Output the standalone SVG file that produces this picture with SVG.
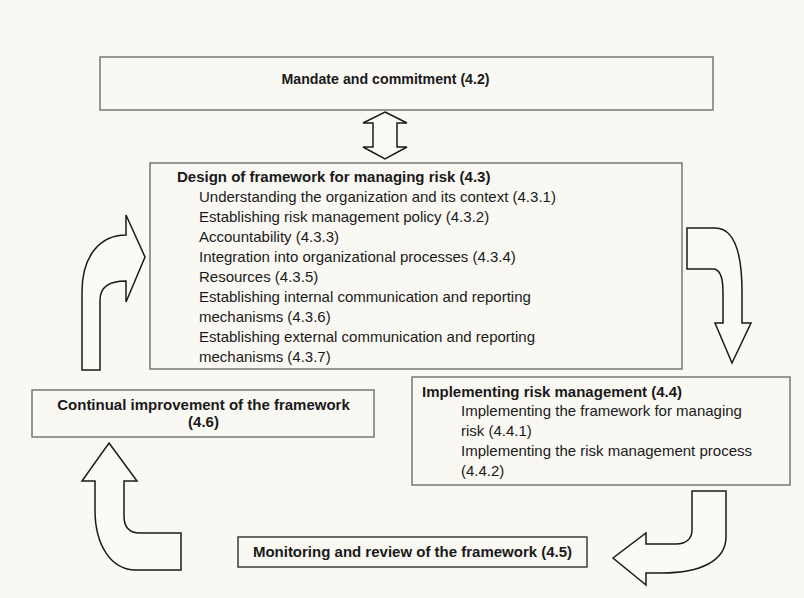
<svg xmlns="http://www.w3.org/2000/svg" width="804" height="598" viewBox="0 0 804 598">
  <style>
    .box { fill: none; stroke: #6e6e6e; stroke-width: 1.4; }
    .box-dark { fill: none; stroke: #2e2e2e; stroke-width: 1.4; }
    .t { font-family: "Liberation Sans", Arial, sans-serif; font-size: 15px; fill: #1a1a1a; }
    .b { font-weight: bold; }
    .mid { text-anchor: middle; }
    .arrow { fill: #fbfaf6; stroke: #1a1a1a; stroke-width: 1.5; stroke-linejoin: miter; }
  </style>

  <rect x="0" y="0" width="804" height="598" fill="#f9f8f3"/>

  <!-- Mandate -->
  <g id="mandate">
    <rect class="box" x="100" y="57" width="613" height="53"/>
    <text class="t b mid" x="385.5" y="83.5" style="font-size:14.2px">Mandate and commitment (4.2)</text>
  </g>

  <!-- Design of framework -->
  <g id="design">
    <rect class="box" x="150" y="163" width="532" height="206"/>
    <text class="t b" x="177" y="181.5">Design of framework for managing risk (4.3)</text>
    <text class="t" x="199" y="201.5">Understanding the organization and its context (4.3.1)</text>
    <text class="t" x="199" y="221.5">Establishing risk management policy (4.3.2)</text>
    <text class="t" x="199" y="241.5">Accountability (4.3.3)</text>
    <text class="t" x="199" y="261.5">Integration into organizational processes (4.3.4)</text>
    <text class="t" x="199" y="281.5">Resources (4.3.5)</text>
    <text class="t" x="199" y="301.5">Establishing internal communication and reporting</text>
    <text class="t" x="199" y="321.5">mechanisms (4.3.6)</text>
    <text class="t" x="199" y="341.5">Establishing external communication and reporting</text>
    <text class="t" x="199" y="361.5">mechanisms (4.3.7)</text>
  </g>

  <!-- Implementing risk management -->
  <g id="implementing">
    <rect class="box" x="412" y="377" width="378" height="108"/>
    <text class="t b" x="422" y="396.5">Implementing risk management (4.4)</text>
    <text class="t" x="461" y="416">Implementing the framework for managing</text>
    <text class="t" x="461" y="436">risk (4.4.1)</text>
    <text class="t" x="461" y="456">Implementing the risk management process</text>
    <text class="t" x="461" y="475.5">(4.4.2)</text>
  </g>

  <!-- Monitoring and review -->
  <g id="monitoring">
    <rect class="box-dark" x="238" y="537" width="349" height="30"/>
    <text class="t b mid" x="412.5" y="557">Monitoring and review of the framework (4.5)</text>
  </g>

  <!-- Continual improvement -->
  <g id="continual">
    <rect class="box" x="32" y="390" width="342" height="47"/>
    <text class="t b mid" x="203.5" y="410">Continual improvement of the framework</text>
    <text class="t b mid" x="203.5" y="427">(4.6)</text>
  </g>

  <!-- Block arrows between the stages -->
  <g id="connectors">
    <!-- two-way arrow: mandate <-> design -->
    <path class="arrow" d="M385,112 L407,123 L397,123 L397,147 L407,147 L385,159 L363,147 L373,147 L373,123 L363,123 Z"/>
    <!-- design -> implementing -->
    <path class="arrow" d="M687,228 L715,228 C734,228 742,252 742,292 L742,323 L751,323 L732,363 L715,323 L723,323 L723,292 C723,276 720,269 713,269 L687,269 Z"/>
    <!-- implementing -> monitoring -->
    <path class="arrow" d="M692,491 L726,491 L726,537 C726,561 700,573 662,573 L646,573 L646,585 L613,558 L646,533 L646,544 L676,544 C687,544 692,538 692,530 Z"/>
    <!-- monitoring -> continual improvement -->
    <path class="arrow" d="M109,443 L137,481 L124,481 L124,516 C124,527 129,533 140,533 L181,533 L181,570 L136,570 C111,570 95,545 95,510 L95,481 L82,481 Z"/>
    <!-- continual improvement -> design -->
    <path class="arrow" d="M82,370 L82,292 C82,256 100,235 126,235 L126,215 L145,257 L126,302 L126,281 C110,281 100,286 100,300 L100,370 Z"/>
  </g>
</svg>
